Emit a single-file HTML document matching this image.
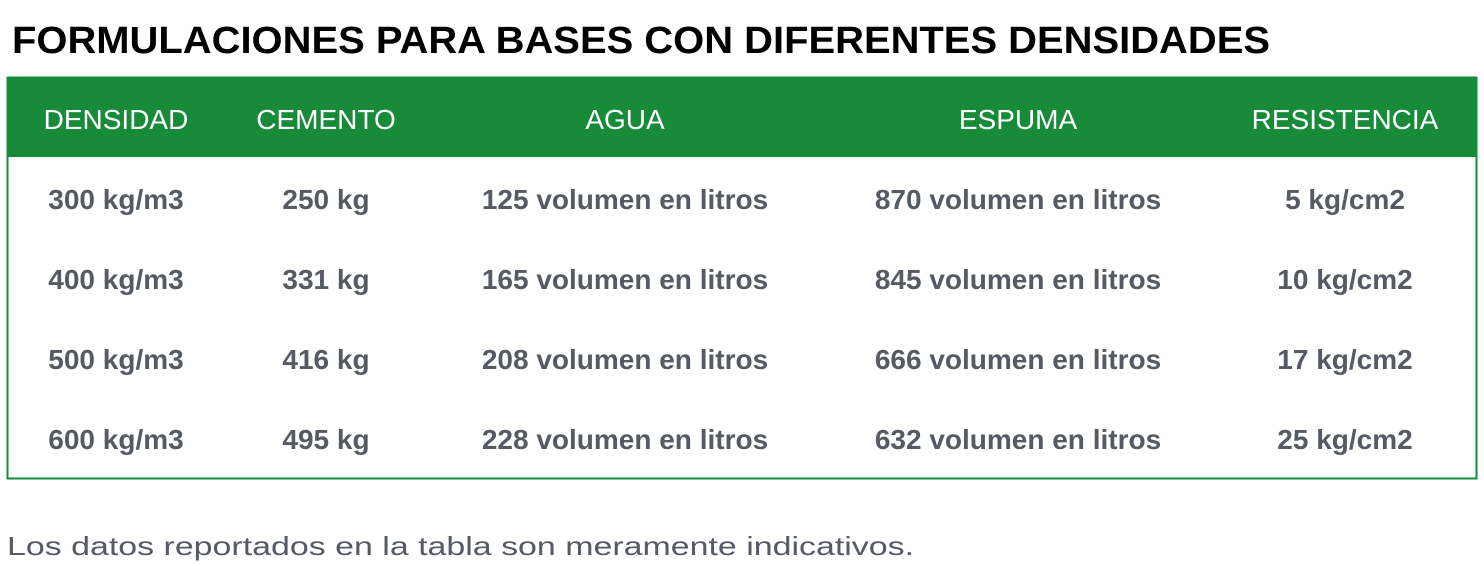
<!DOCTYPE html>
<html><head><meta charset="utf-8"><style>
html,body{margin:0;padding:0;background:#fff;width:1484px;height:566px;overflow:hidden}
svg{display:block;font-family:"Liberation Sans",Arial,sans-serif}
</style></head><body>
<svg width="1484" height="566" viewBox="0 0 1484 566">
<text x="12" y="53" font-size="38" font-weight="bold" fill="#000" textLength="1258" lengthAdjust="spacingAndGlyphs">FORMULACIONES PARA BASES CON DIFERENTES DENSIDADES</text>
<rect x="7.5" y="77.5" width="1469" height="401" fill="#fff" stroke="#178b3a" stroke-width="2"/>
<rect x="7" y="77" width="1470" height="80" fill="#178b3a"/>
<g fill="#fff" font-size="28" text-anchor="middle">
<text x="116" y="129">DENSIDAD</text>
<text x="326" y="129">CEMENTO</text>
<text x="625" y="129">AGUA</text>
<text x="1018" y="129">ESPUMA</text>
<text x="1345" y="129">RESISTENCIA</text>
</g>
<g fill="#555a63" font-size="28" font-weight="bold" text-anchor="middle">
<g>
<text x="116" y="209">300 kg/m3</text>
<text x="326" y="209">250 kg</text>
<text x="625" y="209">125 volumen en litros</text>
<text x="1018" y="209">870 volumen en litros</text>
<text x="1345" y="209">5 kg/cm2</text>
</g>
<g>
<text x="116" y="289">400 kg/m3</text>
<text x="326" y="289">331 kg</text>
<text x="625" y="289">165 volumen en litros</text>
<text x="1018" y="289">845 volumen en litros</text>
<text x="1345" y="289">10 kg/cm2</text>
</g>
<g>
<text x="116" y="369">500 kg/m3</text>
<text x="326" y="369">416 kg</text>
<text x="625" y="369">208 volumen en litros</text>
<text x="1018" y="369">666 volumen en litros</text>
<text x="1345" y="369">17 kg/cm2</text>
</g>
<g>
<text x="116" y="449">600 kg/m3</text>
<text x="326" y="449">495 kg</text>
<text x="625" y="449">228 volumen en litros</text>
<text x="1018" y="449">632 volumen en litros</text>
<text x="1345" y="449">25 kg/cm2</text>
</g>
</g>
<text x="7" y="555" font-size="26" fill="#555a63" textLength="907" lengthAdjust="spacingAndGlyphs">Los datos reportados en la tabla son meramente indicativos.</text>
</svg>
</body></html>
